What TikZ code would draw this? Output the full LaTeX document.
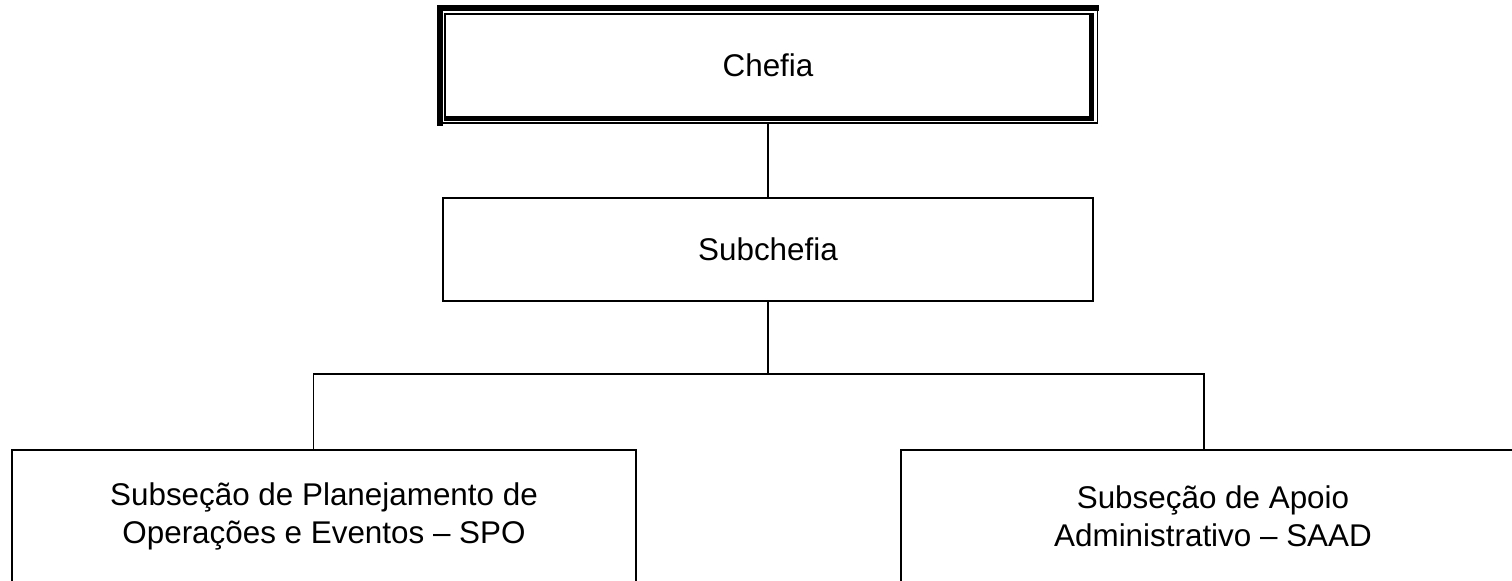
\documentclass[tikz,border=0pt]{standalone}
\usepackage{fontspec}
\setmainfont{Liberation Sans}
\begin{document}
\begin{tikzpicture}[x=0.5pt,y=-0.5pt,
  every node/.style={font=\fontsize{15.7pt}{18.8pt}\selectfont, inner sep=0pt},
  boxnode/.style={draw=black, line width=0.85pt, rectangle, align=center},
  link/.style={draw=black, line width=0.85pt}]
\useasboundingbox (0,0) rectangle (1512,580);
\clip (0,0) rectangle (1512,580);
\fill[white] (0,0) rectangle (1512,580);
% Chefia frame (thick-thin double border)
\fill[black] (437,5) rectangle (443,125.5);
\fill[black] (437,5) rectangle (1099,11);
\fill[black] (1096.7,5) rectangle (1098.3,124);
\fill[black] (437,122) rectangle (1098.3,123.7);
\fill[black] (444,12.7) rectangle (445.7,120.7);
\fill[black] (444,12.7) rectangle (1094.3,14.7);
\fill[black] (1089.3,12.7) rectangle (1094.3,120.7);
\fill[black] (444,116) rectangle (1094.3,120.7);
\node[rectangle, minimum width=330pt, minimum height=59.35pt] (chefia) at (768,64.35) {};
\node at (768,65) {Chefia};
% Subchefia
\node[boxnode, minimum width=325pt, minimum height=51.5pt] (subchefia) at (768,249.5) {Subchefia};
% Bottom boxes
\node[boxnode, minimum width=312pt, minimum height=66.5pt] (spo) at (324,516.5)
  {Subseção de Planejamento de\\Operações e Eventos – SPO};
\node[boxnode, minimum width=312pt, minimum height=66.5pt] (saad) at (1213,516.5)
  {Subseção de Apoio\\Administrativo – SAAD};
% connectors
\coordinate (hl) at (313.5,374);
\coordinate (hr) at (1204,374);
\draw[link] (chefia.south) -- (subchefia.north);
\draw[link] (subchefia.south) -- (subchefia.south |- hl);
\draw[link] (hl |- spo.north) -- (hl) -- (hr) -- (hr |- saad.north);
\end{tikzpicture}
\end{document}
